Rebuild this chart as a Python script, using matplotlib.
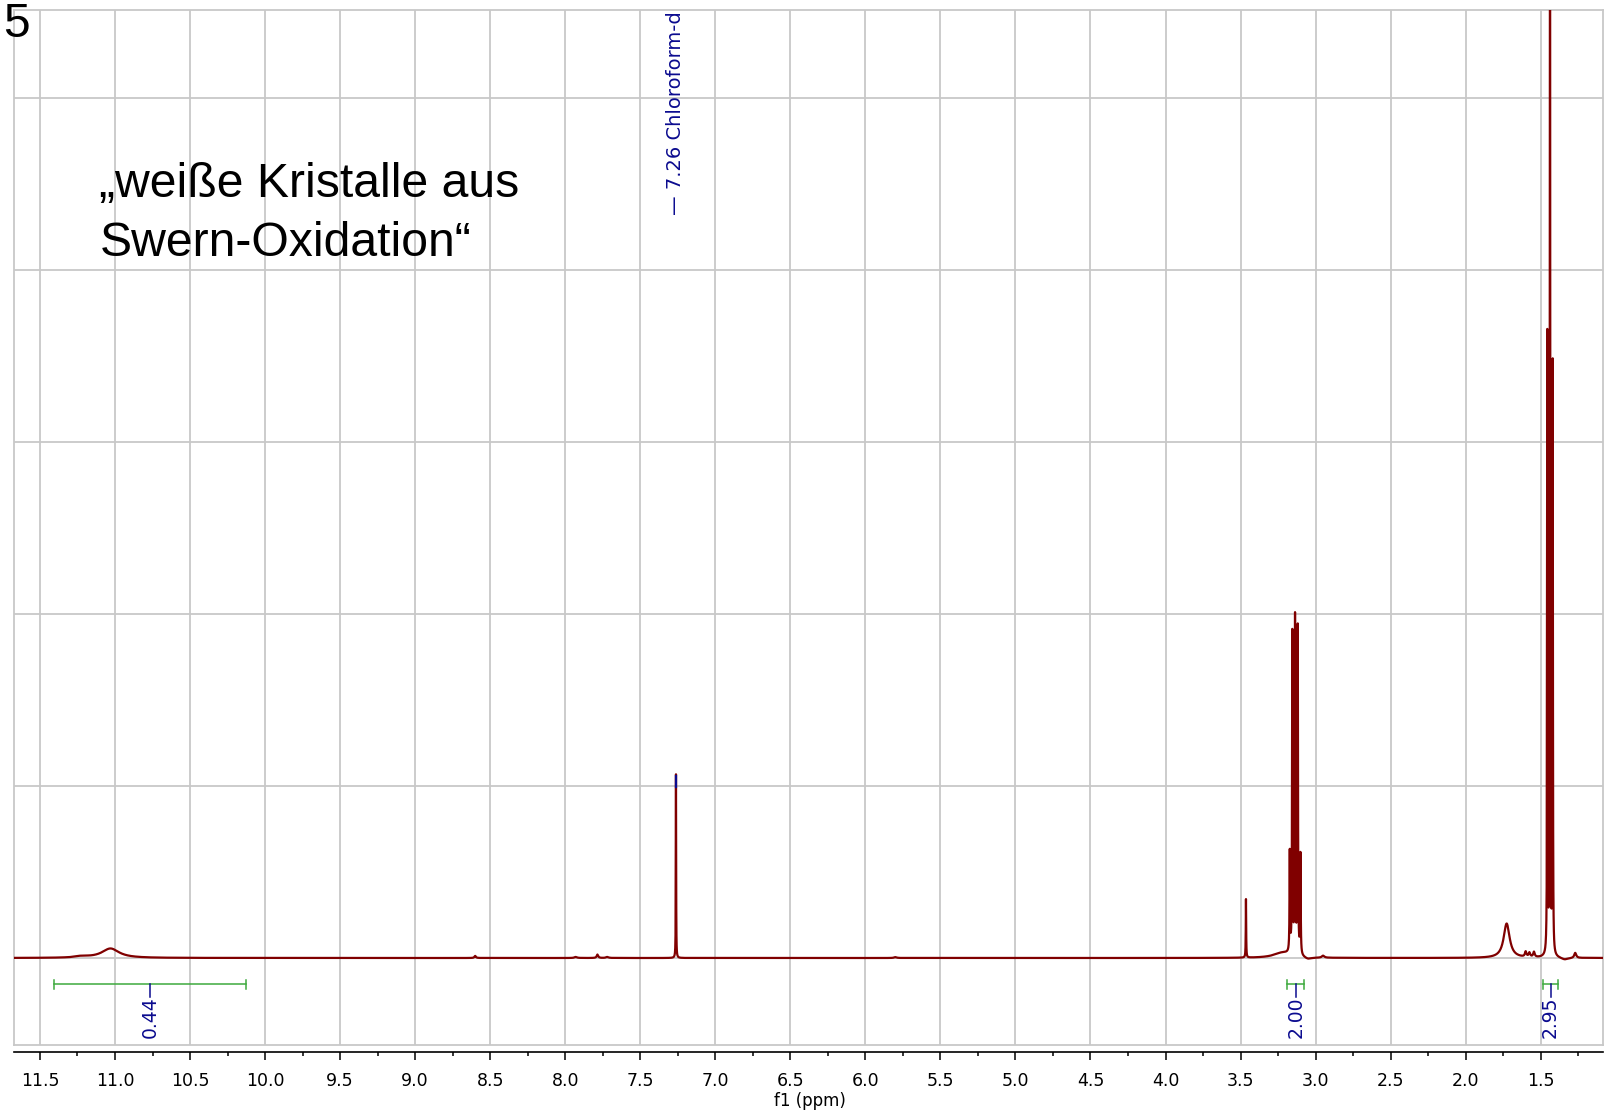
import numpy as np
import matplotlib.pyplot as plt

# peak list: shift (ppm), height (grid units), half width (ppm)
peak_ppm = [11.22, 11.03, 8.60, 7.93, 7.785, 7.72, 7.262, 5.80,
            3.464, 3.22, 3.172, 3.155, 3.137, 3.119, 3.101, 3.05, 2.95,
            1.727, 1.60, 1.575, 1.545, 1.456, 1.438, 1.420, 1.34, 1.27]
peak_height = [0.008, 0.055, 0.012, 0.006, 0.02, 0.006, 1.068, 0.005,
               0.34, 0.03, 0.58, 1.86, 1.95, 1.90, 0.58, -0.012, 0.012,
               0.20, 0.03, 0.025, 0.03, 3.60, 7.30, 3.43, -0.012, 0.03]
peak_width = [0.05, 0.07, 0.006, 0.01, 0.006, 0.01, 0.0012, 0.01,
              0.0015, 0.07, 0.002, 0.002, 0.002, 0.002, 0.002, 0.03, 0.01,
              0.024, 0.006, 0.006, 0.006, 0.0015, 0.0015, 0.0015, 0.03, 0.008]

# integrals: start, end, value
int_start = [11.405, 3.188, 1.486]
int_end = [10.13, 3.077, 1.383]
int_value = ['0.44', '2.00', '2.95']

tick_pos = np.arange(1.5, 11.6, 0.5)
tick_lab = ['%.1f' % v for v in tick_pos]

ppm = np.arange(1.08, 11.68, 0.0002)
intensity = np.zeros_like(ppm)
for p, h, g in zip(peak_ppm, peak_height, peak_width):
    intensity += h / (1 + ((ppm - p) / g) ** 2)

W, H = 1607, 1120
fig = plt.figure(figsize=(W / 100, H / 100), dpi=100)
ax = fig.add_axes([14 / W, 75 / H, 1588.7 / W, 1035 / H])

grid_c = '#c8c8c8'
navy = '#0b0b8f'
green = '#3daa3d'

ax.plot(ppm, intensity, color='#800000', lw=1.6, zorder=3)
ax.set_xlim(11.673, 1.087)
ax.set_ylim(-0.5058, 5.5116)

ax.set_xticks(tick_pos, tick_lab)
ax.set_xticks(np.arange(1.25, 11.7, 0.5), minor=True)
ax.set_yticks(range(0, 6))
ax.tick_params(axis='y', length=0, labelleft=False)
ax.tick_params(axis='x', which='major', length=6, width=1.1, pad=9,
               direction='out', labelsize=12.5)
ax.tick_params(axis='x', which='minor', length=3, width=1.1, direction='out')
ax.grid(True, color=grid_c, lw=1.3, zorder=0)

for s in ['left', 'right', 'top']:
    ax.spines[s].set_color(grid_c)
    ax.spines[s].set_linewidth(1.3)
ax.spines['bottom'].set_position(('outward', 4.8))
ax.spines['bottom'].set_linewidth(1.2)
ax.axhline(-0.5058, color=grid_c, lw=1.3, clip_on=False, zorder=0)

ax.set_xlabel('f1 (ppm)', fontsize=12)
ax.xaxis.set_label_coords(0.501, -0.0455)

# solvent peak label
ax.plot([7.262, 7.262], [0.995, 1.06], color=navy, lw=1.6, zorder=4)
ax.text(7.262, 0.802, '\u2014 7.26 Chloroform-d', transform=ax.get_xaxis_transform(),
        rotation=90, ha='center', va='bottom', color=navy, fontsize=14)

# integrals
y_int = -0.153
for a, b, v in zip(int_start, int_end, int_value):
    ax.plot([a, b], [y_int, y_int], color=green, lw=1.1, zorder=4)
    ax.plot([a, a], [y_int - 0.025, y_int + 0.025], color=green, lw=1.1, zorder=4)
    ax.plot([b, b], [y_int - 0.025, y_int + 0.025], color=green, lw=1.1, zorder=4)
    c = (a + b) / 2
    ax.plot([c, c], [y_int, -0.225], color=navy, lw=1.1, zorder=4)
    ax.text(c, -0.225, v, rotation=90, ha='center', va='top', color=navy, fontsize=13.5)

fig.text(3 / W, 1 - 37 / H, '5', fontsize=34.5, family='Liberation Sans', va='baseline')
fig.text(99 / W, 1 - 197 / H, '\u201eweiße Kristalle aus', fontsize=34.7,
         family='Liberation Sans', va='baseline')
fig.text(100 / W, 1 - 256 / H, 'Swern-Oxidation\u201c', fontsize=34.7,
         family='Liberation Sans', va='baseline')

fig.savefig('out.png', dpi=100)
